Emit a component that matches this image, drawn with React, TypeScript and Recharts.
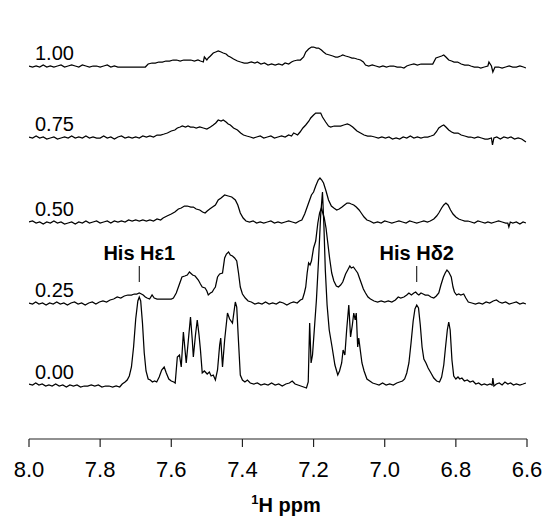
import { LineChart, Line, XAxis, YAxis, ReferenceLine } from "recharts";

type Pt = [number, number];

const PPM_TICKS = [8.0, 7.8, 7.6, 7.4, 7.2, 7.0, 6.8, 6.6];
const LEVEL_LABELS = ["0.00", "0.25", "0.50", "0.75", "1.00"];
// vertical offset of each trace baseline (stacked display units)
const LEVEL_OFFSETS = [54, 136, 217, 302, 373];
const ANNOTATIONS = [
  { text: "His H\u03b51", ppm: 7.69 },
  { text: "His H\u03b42", ppm: 6.91 },
];

// [ppm, intensity above baseline]
const trace000: Pt[] = [
  [8.0, 1], [7.99, 0], [7.981, 2], [7.972, 0], [7.963, 1], [7.953, -1], [7.944, 0], [7.935, -1], [7.925, 1],
  [7.915, -1], [7.905, 0], [7.895, -2], [7.885, 0], [7.875, -1], [7.865, 0], [7.855, -2], [7.845, -1],
  [7.835, -1], [7.825, 0], [7.815, -1], [7.805, 0], [7.795, -2], [7.785, -1], [7.775, -1], [7.765, -2],
  [7.755, -1], [7.745, -2], [7.738, 1], [7.73, 3], [7.724, 5], [7.718, 9], [7.712, 18], [7.706, 38],
  [7.7, 66], [7.694, 84], [7.69, 88], [7.686, 84], [7.681, 62], [7.676, 32], [7.671, 14], [7.665, 6],
  [7.659, 5], [7.653, 3], [7.647, 4], [7.641, 3], [7.634, 8], [7.627, 15], [7.62, 18], [7.614, 12],
  [7.607, 6], [7.6, 4], [7.593, 3], [7.589, 2], [7.583, 28], [7.577, 30], [7.572, 18], [7.566, 53],
  [7.558, 22], [7.552, 45], [7.546, 68], [7.541, 45], [7.538, 28], [7.532, 50], [7.527, 65], [7.522, 50],
  [7.518, 35], [7.513, 12], [7.507, 14], [7.499, 11], [7.493, 13], [7.488, 9], [7.482, 10], [7.476, 5],
  [7.47, 15], [7.464, 40], [7.461, 47], [7.456, 18], [7.45, 45], [7.442, 72], [7.436, 66], [7.428, 62],
  [7.42, 83], [7.416, 78], [7.412, 50], [7.406, 10], [7.4, 5], [7.393, 3], [7.386, 5], [7.378, 2],
  [7.368, 1], [7.358, 2], [7.348, 0], [7.338, 1], [7.328, 0], [7.318, 2], [7.308, 0], [7.298, 1],
  [7.288, -1], [7.278, 1], [7.268, 2], [7.26, 4], [7.252, 1], [7.244, 0], [7.236, -1], [7.228, -2],
  [7.22, -3], [7.215, 3], [7.211, 62], [7.207, 22], [7.203, 30], [7.197, 60], [7.192, 85], [7.186, 125],
  [7.18, 170], [7.175, 193], [7.171, 160], [7.167, 115], [7.162, 80], [7.156, 55], [7.148, 38],
  [7.14, 20], [7.132, 10], [7.127, 14], [7.121, 22], [7.117, 35], [7.112, 30], [7.107, 55], [7.101, 80],
  [7.096, 48], [7.091, 60], [7.087, 72], [7.083, 65], [7.08, 72], [7.076, 38], [7.073, 47], [7.068, 33],
  [7.064, 22], [7.058, 14], [7.05, 6], [7.042, 4], [7.034, 2], [7.025, 1], [7.016, 0], [7.006, 2],
  [6.996, 0], [6.986, 1], [6.976, 0], [6.966, 2], [6.958, 3], [6.95, 4], [6.944, 6], [6.938, 12],
  [6.932, 22], [6.926, 42], [6.92, 64], [6.915, 76], [6.91, 80], [6.905, 77], [6.9, 60], [6.895, 38],
  [6.89, 26], [6.884, 22], [6.878, 17], [6.87, 12], [6.862, 7], [6.854, 4], [6.846, 3], [6.84, 8],
  [6.834, 20], [6.829, 38], [6.824, 55], [6.82, 63], [6.816, 55], [6.811, 25], [6.806, 9], [6.8, 6],
  [6.794, 8], [6.789, 6], [6.783, 7], [6.776, 4], [6.768, 5], [6.76, 3], [6.752, 4], [6.744, 1],
  [6.736, 2], [6.728, 0], [6.72, 1], [6.712, 0], [6.704, 1], [6.698, 0], [6.696, 7], [6.693, -1],
  [6.686, 1], [6.678, 2], [6.67, 0], [6.662, 3], [6.654, 1], [6.646, 2], [6.638, 0], [6.63, 1],
  [6.62, 0], [6.611, 1], [6.603, 2],
];

const trace025: Pt[] = [
  [8.0, 0], [7.99, -1], [7.981, 1], [7.972, -1], [7.962, 0], [7.952, -2], [7.942, 0], [7.932, -1],
  [7.922, 1], [7.912, -1], [7.902, 0], [7.892, -2], [7.882, 0], [7.872, 1], [7.862, -1], [7.852, 0],
  [7.842, -2], [7.832, 0], [7.822, 1], [7.812, -1], [7.802, 1], [7.792, 2], [7.782, 1], [7.772, 3],
  [7.762, 4], [7.752, 6], [7.742, 5], [7.732, 7], [7.722, 8], [7.712, 8], [7.704, 9], [7.697, 9],
  [7.69, 10], [7.684, 9], [7.679, 8], [7.673, 6], [7.668, 5], [7.661, 4], [7.654, 8], [7.648, 5],
  [7.64, 4], [7.63, 4], [7.62, 4], [7.61, 4], [7.6, 4], [7.594, 5], [7.586, 10], [7.578, 18], [7.57, 26],
  [7.562, 27], [7.555, 28], [7.549, 31], [7.546, 30], [7.54, 28], [7.533, 27], [7.524, 23], [7.518, 19],
  [7.513, 16], [7.505, 15], [7.5, 12], [7.496, 8], [7.49, 10], [7.485, 11], [7.48, 14], [7.476, 16],
  [7.47, 26], [7.464, 29], [7.456, 30], [7.45, 45], [7.445, 49], [7.439, 51], [7.434, 48], [7.428, 47],
  [7.422, 45], [7.416, 42], [7.411, 30], [7.406, 16], [7.4, 9], [7.392, 5], [7.384, 2], [7.375, 1],
  [7.365, -1], [7.355, 0], [7.345, -1], [7.335, 1], [7.325, -1], [7.315, 0], [7.305, -1], [7.295, 1],
  [7.285, 0], [7.275, -2], [7.265, 0], [7.256, 1], [7.246, 0], [7.237, 3], [7.231, 4], [7.226, 10],
  [7.222, 16], [7.218, 30], [7.214, 40], [7.21, 38], [7.206, 42], [7.2, 55], [7.194, 62], [7.188, 80],
  [7.183, 90], [7.178, 95], [7.174, 90], [7.17, 85], [7.165, 75], [7.16, 60], [7.155, 45], [7.149, 30],
  [7.143, 22], [7.136, 17], [7.13, 16], [7.124, 18], [7.118, 21], [7.11, 29], [7.104, 33], [7.098, 37],
  [7.094, 35], [7.088, 36], [7.082, 33], [7.076, 30], [7.07, 24], [7.066, 20], [7.06, 14], [7.054, 10],
  [7.047, 6], [7.04, 4], [7.03, 2], [7.02, 1], [7.01, 2], [7.0, 1], [6.99, 2], [6.98, 1], [6.97, 3],
  [6.962, 6], [6.955, 5], [6.946, 6], [6.938, 8], [6.932, 10], [6.925, 8], [6.918, 10], [6.913, 11],
  [6.908, 9], [6.904, 8], [6.898, 10], [6.892, 9], [6.886, 8], [6.878, 8], [6.87, 6], [6.862, 5],
  [6.855, 7], [6.848, 10], [6.842, 18], [6.835, 26], [6.83, 30], [6.825, 33], [6.82, 31], [6.813, 26],
  [6.808, 16], [6.804, 11], [6.798, 8], [6.792, 9], [6.786, 8], [6.778, 9], [6.772, 5], [6.765, 1],
  [6.755, 0], [6.745, -1], [6.735, 0], [6.725, -1], [6.715, 1], [6.705, 0], [6.695, 2], [6.686, 3],
  [6.678, 1], [6.67, 0], [6.66, 1], [6.65, -1], [6.64, 0], [6.63, 1], [6.62, -1], [6.611, 0], [6.603, -1],
];

const trace050: Pt[] = [
  [8.0, 0], [7.99, 1], [7.98, -1], [7.97, 0], [7.96, -2], [7.95, 0], [7.94, -1], [7.93, 1], [7.92, -1],
  [7.91, 0], [7.9, -2], [7.89, -1], [7.88, 0], [7.87, -2], [7.86, 0], [7.85, -1], [7.84, 1], [7.83, -1],
  [7.82, 0], [7.81, 1], [7.8, -1], [7.79, 0], [7.78, 1], [7.77, -1], [7.76, 1], [7.75, 0], [7.74, 1],
  [7.73, 0], [7.72, 2], [7.71, 1], [7.7, 2], [7.69, 1], [7.68, 2], [7.67, 1], [7.66, 2], [7.65, 1],
  [7.64, 3], [7.63, 2], [7.623, 4], [7.612, 6], [7.6, 8], [7.59, 10], [7.58, 13], [7.572, 14],
  [7.563, 16], [7.555, 16], [7.545, 15], [7.538, 15], [7.53, 13], [7.52, 12], [7.512, 10], [7.505, 9],
  [7.499, 11], [7.492, 13], [7.484, 15], [7.476, 17], [7.468, 22], [7.46, 24], [7.45, 27], [7.44, 26],
  [7.43, 25], [7.42, 22], [7.413, 17], [7.406, 9], [7.398, 4], [7.39, 1], [7.38, 0], [7.37, 1],
  [7.36, -1], [7.35, 0], [7.34, -1], [7.33, 0], [7.32, 1], [7.31, -1], [7.3, 0], [7.29, -1], [7.28, 0],
  [7.27, 1], [7.26, 0], [7.25, -1], [7.24, 1], [7.233, 2], [7.225, 8], [7.218, 15], [7.211, 22],
  [7.206, 27], [7.2, 30], [7.194, 36], [7.187, 42], [7.182, 44], [7.177, 42], [7.172, 39], [7.165, 31],
  [7.158, 22], [7.15, 16], [7.143, 14], [7.135, 12], [7.128, 13], [7.12, 15], [7.113, 17], [7.106, 19],
  [7.1, 19], [7.094, 18], [7.087, 17], [7.08, 15], [7.072, 12], [7.066, 9], [7.058, 5], [7.05, 2],
  [7.042, 1], [7.031, -1], [7.02, 0], [7.01, -1], [7.0, 1], [6.99, 0], [6.98, -1], [6.97, 0], [6.96, 1],
  [6.95, 0], [6.94, -1], [6.93, 1], [6.92, 0], [6.91, -1], [6.9, 0], [6.89, 1], [6.88, 0], [6.872, 1],
  [6.862, 3], [6.854, 6], [6.848, 9], [6.84, 14], [6.834, 17], [6.828, 19], [6.822, 17], [6.815, 12],
  [6.808, 8], [6.8, 5], [6.792, 3], [6.784, 2], [6.775, 1], [6.766, 1], [6.757, 0], [6.748, -1],
  [6.738, 1], [6.728, 0], [6.718, -1], [6.71, 0], [6.7, -1], [6.69, 0], [6.68, 1], [6.67, 0], [6.66, -1],
  [6.654, -1], [6.651, -5], [6.647, 0], [6.64, -1], [6.63, 0], [6.62, -2], [6.611, 0], [6.603, -1],
];

const trace075: Pt[] = [
  [8.0, 0], [7.99, -1], [7.98, 1], [7.97, -1], [7.96, 0], [7.95, -2], [7.94, -1], [7.93, 0], [7.92, -2],
  [7.91, -1], [7.9, 0], [7.89, -1], [7.88, 1], [7.87, -1], [7.86, 0], [7.85, -1], [7.84, 1], [7.83, -1],
  [7.82, 0], [7.81, -1], [7.8, -1], [7.79, 1], [7.78, -1], [7.77, 0], [7.76, -2], [7.75, 0], [7.74, 1],
  [7.73, -1], [7.72, 0], [7.71, -1], [7.7, 0], [7.69, -1], [7.68, 1], [7.67, 0], [7.66, 1], [7.65, 0],
  [7.64, 2], [7.63, 2], [7.62, 3], [7.611, 4], [7.6, 6], [7.59, 7], [7.583, 9], [7.575, 10], [7.569, 11],
  [7.56, 10], [7.553, 11], [7.546, 10], [7.538, 10], [7.53, 9], [7.52, 10], [7.51, 9], [7.5, 8],
  [7.49, 10], [7.482, 12], [7.475, 14], [7.468, 17], [7.46, 16], [7.454, 17], [7.446, 15], [7.44, 13],
  [7.434, 12], [7.425, 9], [7.414, 7], [7.405, 4], [7.397, 2], [7.388, 1], [7.378, 0], [7.369, -1],
  [7.36, 0], [7.35, 1], [7.34, -1], [7.33, 0], [7.32, 1], [7.31, -1], [7.3, 0], [7.29, 1], [7.28, 0],
  [7.27, 2], [7.262, 1], [7.256, 4], [7.25, 3], [7.245, 2], [7.238, 5], [7.23, 9], [7.222, 12],
  [7.213, 16], [7.208, 19], [7.2, 22], [7.194, 24], [7.186, 24], [7.18, 24], [7.175, 20], [7.166, 15],
  [7.158, 11], [7.152, 10], [7.142, 11], [7.132, 11], [7.124, 11], [7.115, 12], [7.105, 13], [7.098, 12],
  [7.09, 10], [7.087, 9], [7.078, 6], [7.068, 4], [7.058, 2], [7.048, 1], [7.039, 1], [7.028, 0],
  [7.018, -1], [7.008, 0], [6.998, -1], [6.988, 0], [6.978, -2], [6.968, -1], [6.958, -2], [6.948, 0],
  [6.938, -1], [6.928, 1], [6.918, -1], [6.908, 0], [6.898, -1], [6.888, 0], [6.879, 0], [6.87, 1],
  [6.862, 2], [6.855, 5], [6.848, 9], [6.84, 11], [6.834, 12], [6.828, 10], [6.82, 7], [6.812, 5],
  [6.805, 4], [6.794, 4], [6.785, 2], [6.775, 1], [6.765, 0], [6.758, 0], [6.748, -1], [6.738, 0],
  [6.728, -1], [6.718, -2], [6.71, -2], [6.7, -1], [6.697, -8], [6.693, -1], [6.685, 0], [6.675, -2],
  [6.665, 0], [6.654, -1], [6.645, 0], [6.635, -2], [6.625, -1], [6.615, -2], [6.603, -5],
];

const trace100: Pt[] = [
  [8.0, 0], [7.99, -1], [7.98, 0], [7.97, -1], [7.96, 1], [7.95, -1], [7.94, 0], [7.93, -1], [7.92, 0],
  [7.91, 1], [7.9, -1], [7.89, 0], [7.88, 1], [7.87, 0], [7.86, -1], [7.85, 1], [7.84, 0], [7.83, -1],
  [7.82, 0], [7.81, 0], [7.8, -1], [7.79, 0], [7.78, 1], [7.77, -1], [7.76, 0], [7.75, -1], [7.74, -1],
  [7.73, -1], [7.72, -1], [7.71, -1], [7.7, -1], [7.69, -1], [7.68, -1], [7.673, -1], [7.665, 2],
  [7.654, 3], [7.645, 3], [7.635, 4], [7.625, 4], [7.615, 5], [7.605, 5], [7.595, 6], [7.585, 6],
  [7.575, 5], [7.565, 6], [7.555, 6], [7.545, 6], [7.535, 5], [7.525, 6], [7.518, 5], [7.51, 4],
  [7.507, 9], [7.5, 6], [7.496, 8], [7.49, 10], [7.482, 13], [7.475, 14], [7.468, 15], [7.46, 14],
  [7.454, 13], [7.446, 12], [7.44, 10], [7.434, 9], [7.425, 7], [7.414, 5], [7.405, 4], [7.395, 3],
  [7.386, 3], [7.375, 4], [7.365, 3], [7.358, 4], [7.348, 2], [7.338, 3], [7.328, 1], [7.318, 2],
  [7.308, 1], [7.298, 2], [7.288, 1], [7.28, 3], [7.27, 2], [7.262, 4], [7.256, 5], [7.245, 6],
  [7.237, 6], [7.228, 9], [7.222, 14], [7.214, 17], [7.206, 19], [7.2, 19], [7.192, 18], [7.186, 18],
  [7.178, 16], [7.172, 14], [7.165, 12], [7.155, 11], [7.146, 10], [7.138, 9], [7.132, 9], [7.124, 10],
  [7.118, 11], [7.11, 10], [7.1, 9], [7.092, 8], [7.087, 8], [7.078, 7], [7.068, 6], [7.06, 4],
  [7.054, 1], [7.045, 0], [7.035, 1], [7.025, 0], [7.015, -1], [7.005, 0], [6.995, -1], [6.985, 0],
  [6.975, 0], [6.965, -1], [6.955, -1], [6.946, -2], [6.938, 0], [6.93, 1], [6.918, 2], [6.908, 1],
  [6.898, 2], [6.888, 2], [6.875, 2], [6.865, 2], [6.856, 8], [6.848, 9], [6.84, 10], [6.834, 11],
  [6.828, 9], [6.82, 6], [6.812, 5], [6.805, 4], [6.795, 4], [6.785, 2], [6.775, 1], [6.765, 1],
  [6.758, 0], [6.748, -1], [6.738, -1], [6.73, -2], [6.72, -1], [6.71, 0], [6.707, 4], [6.7, 0],
  [6.696, -6], [6.69, -1], [6.68, -1], [6.67, -2], [6.66, -1], [6.65, 0], [6.64, -1], [6.63, -1],
  [6.62, 0], [6.61, -1], [6.603, -2],
];

const TRACES = [trace000, trace025, trace050, trace075, trace100];

const W = 544;
const H = 518;
const M = { top: 14, right: 17, left: 29, bottom: 49 };
const X_AXIS_H = 30;
const Y_MAX = 425;
const PLOT_W = W - M.left - M.right;
const PLOT_H = H - M.top - M.bottom - X_AXIS_H;
const FONT = "'Liberation Sans', Arial, Helvetica, sans-serif";

const xPix = (ppm: number) => M.left + ((8.0 - ppm) / 1.4) * PLOT_W;
const yPix = (v: number) => M.top + ((Y_MAX - v) / Y_MAX) * PLOT_H;

export default function App() {
  const series = TRACES.map((t, i) =>
    t.map(([ppm, v]) => ({ ppm, v: LEVEL_OFFSETS[i] + v }))
  );
  const annotBase = LEVEL_OFFSETS[1];

  return (
    <div style={{ position: "absolute", left: 0, top: 0, width: W, height: H, background: "#fff" }}>
      <LineChart width={W} height={H} margin={M}>
        <XAxis
          type="number"
          dataKey="ppm"
          domain={[6.6, 8.0]}
          reversed
          allowDataOverflow
          ticks={PPM_TICKS}
          interval={0}
          tickFormatter={(v: number) => v.toFixed(1)}
          height={X_AXIS_H}
          tickSize={8}
          tickMargin={14}
          axisLine={{ stroke: "#222", strokeWidth: 1.2 }}
          tickLine={{ stroke: "#222", strokeWidth: 1.2 }}
          tick={{ fill: "#000", fontSize: 22, fontFamily: FONT }}
        />
        <YAxis
          type="number"
          domain={[0, Y_MAX]}
          width={0}
          tick={false}
          tickLine={false}
          axisLine={{ stroke: "#999", strokeWidth: 1.8 }}
        />
        {series.map((d, i) => (
          <Line
            key={LEVEL_LABELS[i]}
            data={d}
            dataKey="v"
            type="linear"
            stroke="#000"
            strokeWidth={1.25}
            dot={false}
            activeDot={false}
            isAnimationActive={false}
          />
        ))}
        {ANNOTATIONS.map((a) => (
          <ReferenceLine
            key={a.text}
            segment={[
              { x: a.ppm, y: annotBase + 21 },
              { x: a.ppm, y: annotBase + 37 },
            ]}
            stroke="#000"
            strokeWidth={1}
          />
        ))}
        {ANNOTATIONS.map((a) => (
          <text
            key={a.text + "-t"}
            x={xPix(a.ppm)}
            y={yPix(annotBase + 43)}
            textAnchor="middle"
            fontFamily={FONT}
            fontWeight="bold"
            fontSize={20}
            fill="#000"
          >
            {a.text}
          </text>
        ))}
        {LEVEL_LABELS.map((l, i) => (
          <text
            key={l + "-l"}
            x={35}
            y={yPix(LEVEL_OFFSETS[i] + 6)}
            fontFamily={FONT}
            fontSize={20}
            fill="#000"
          >
            {l}
          </text>
        ))}
        <text
          x={M.left + PLOT_W / 2 + 8}
          y={512}
          textAnchor="middle"
          fontFamily={FONT}
          fontWeight="bold"
          fontSize={20}
          fill="#000"
        >
          <tspan fontSize={13} dy={-8}>1</tspan>
          <tspan dy={8}>H ppm</tspan>
        </text>
      </LineChart>
    </div>
  );
}
